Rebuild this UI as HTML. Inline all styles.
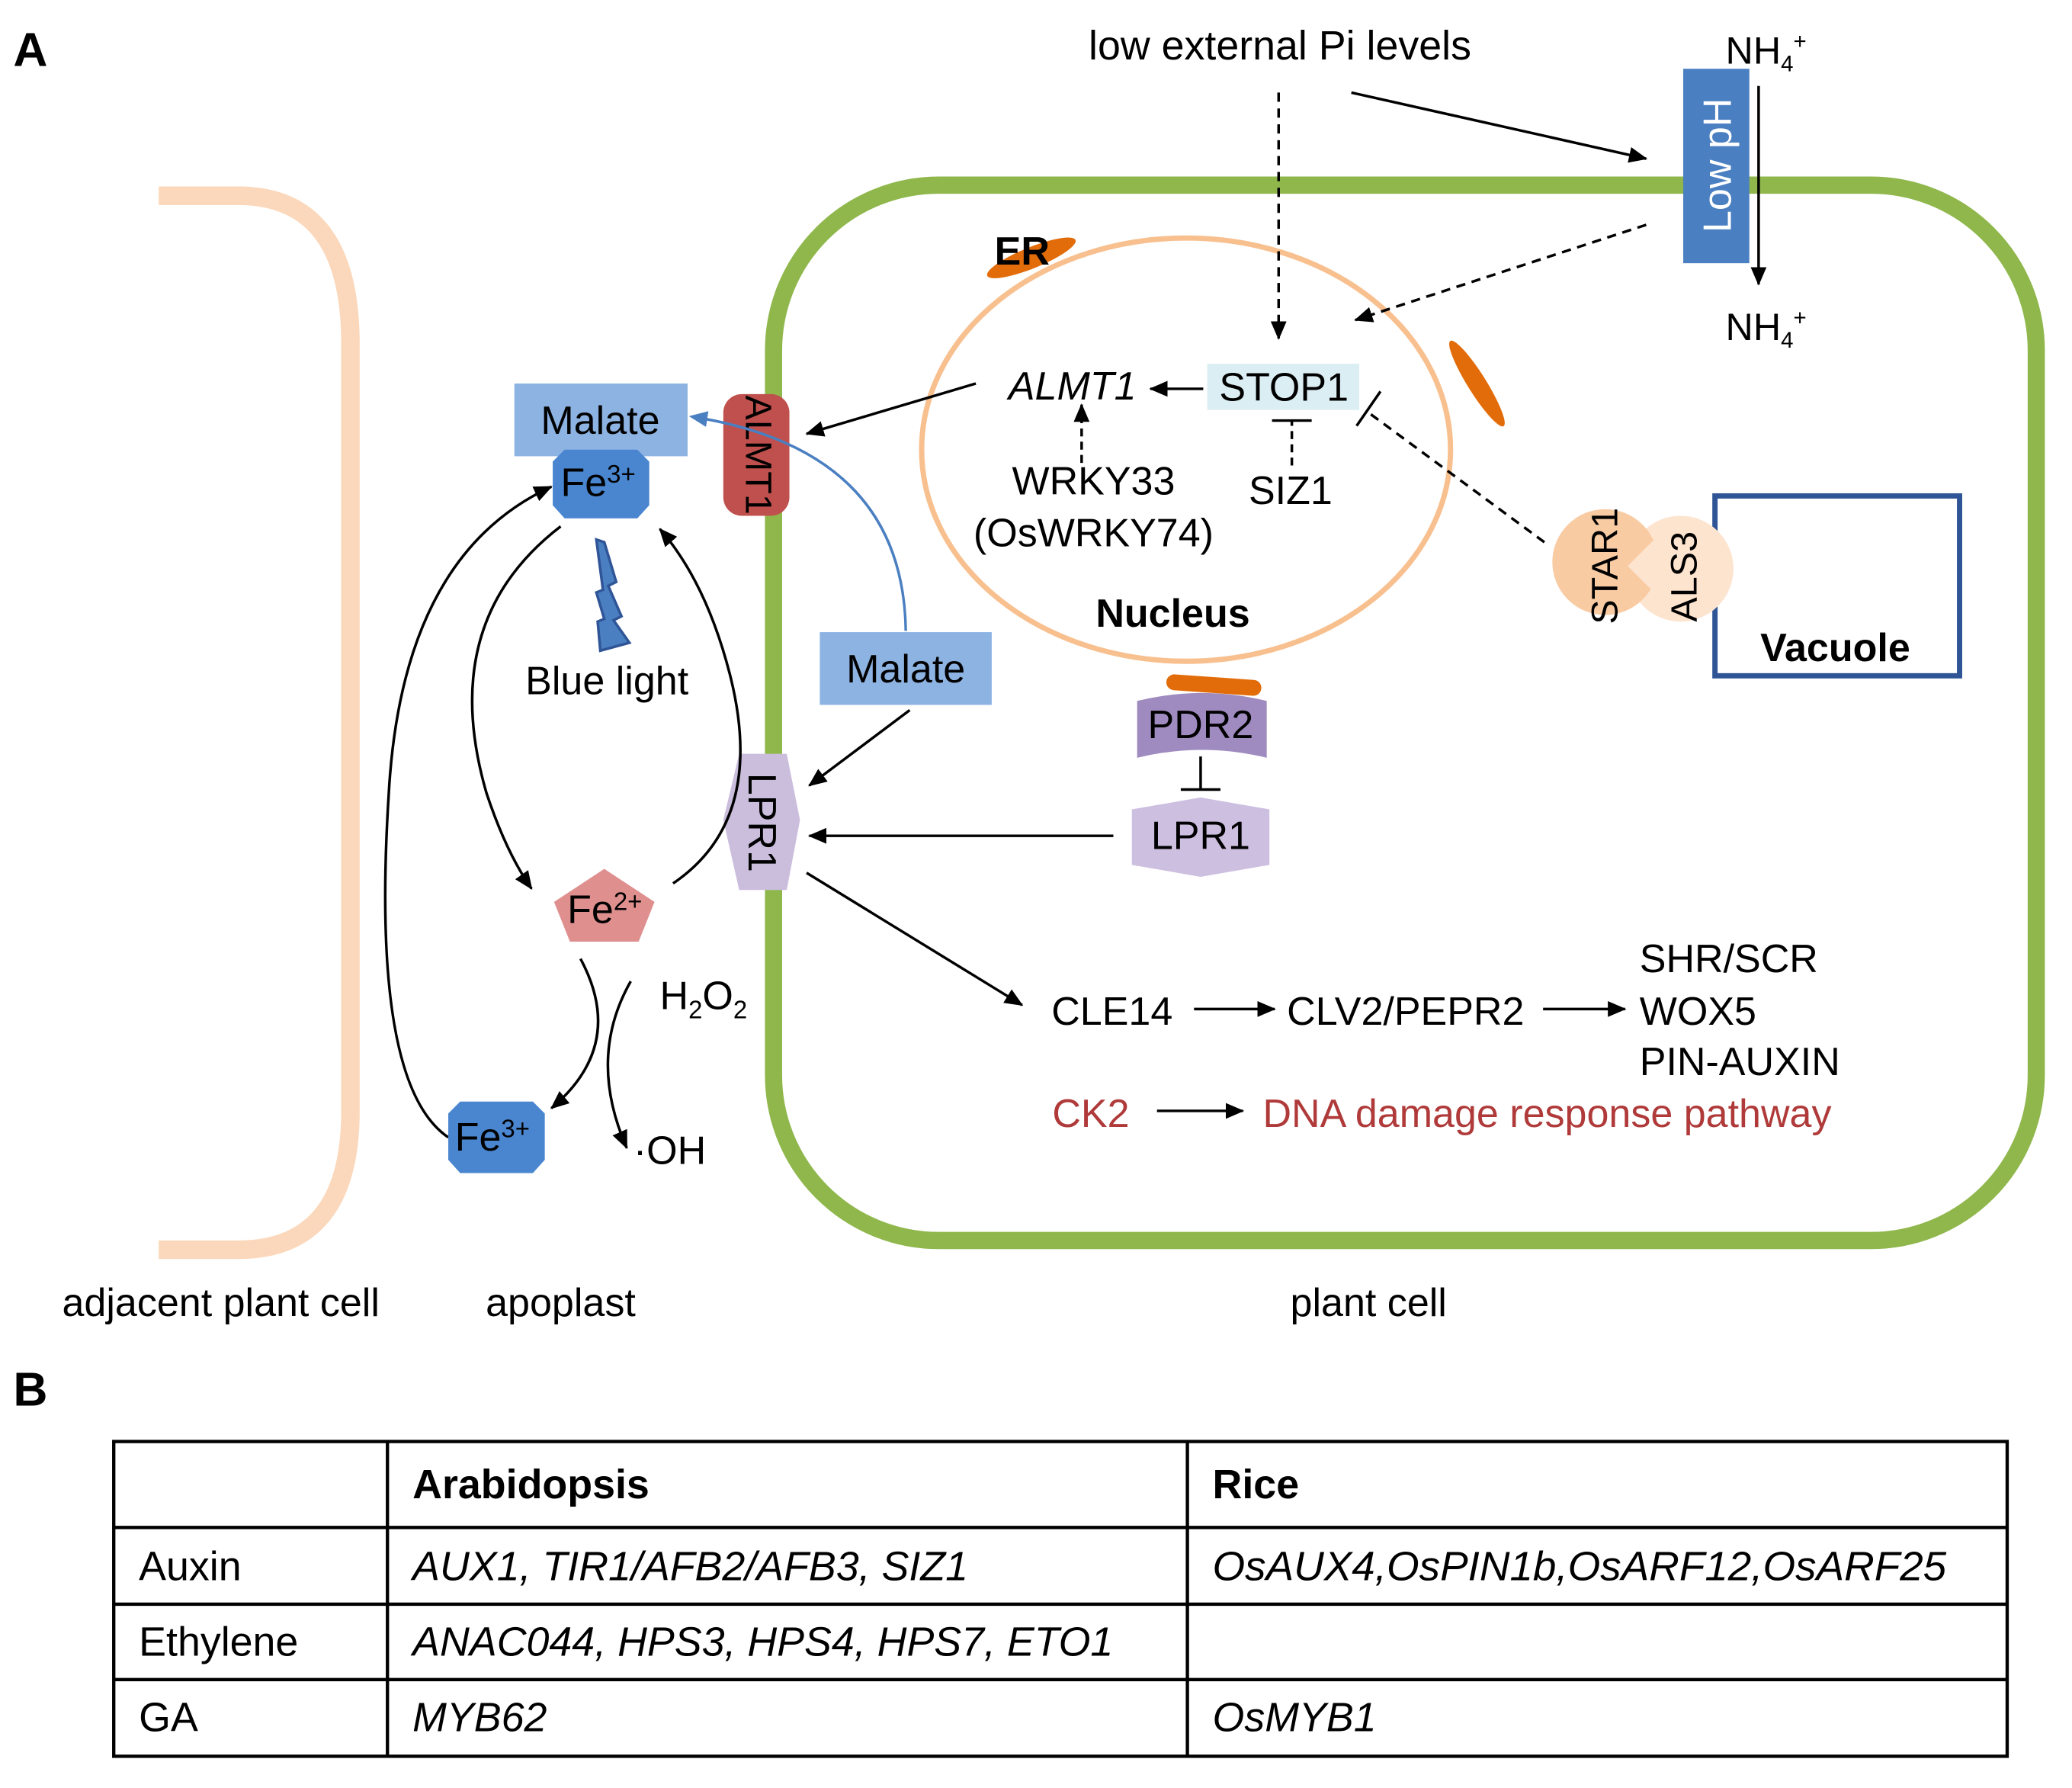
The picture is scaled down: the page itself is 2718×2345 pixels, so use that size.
<!DOCTYPE html>
<html><head><meta charset="utf-8"><style>html,body{margin:0;padding:0;background:#fff}svg{display:block}</style></head>
<body>
<svg width="2718" height="2345" viewBox="0 0 1567 1352" xmlns="http://www.w3.org/2000/svg" font-family="Liberation Sans, Arial, sans-serif">
<defs>
<marker id="ah" markerWidth="14" markerHeight="12" refX="13" refY="6" orient="auto" markerUnits="userSpaceOnUse" viewBox="0 0 14 12"><path d="M0,0 L14,6 L0,12 z" fill="#000"/></marker>
<marker id="ab" markerWidth="14" markerHeight="12" refX="12" refY="6" orient="auto" markerUnits="userSpaceOnUse" viewBox="0 0 14 12"><path d="M0,0 L14,6 L0,12 z" fill="#4a7fc1"/></marker>
</defs>
<rect width="1567" height="1352" fill="#fff"/>
<text x="10" y="50" font-size="36" font-weight="bold">A</text>
<text x="10" y="1063" font-size="36" font-weight="bold">B</text>

<path d="M120,148 H180 Q265,148 265,260 V840 Q265,945 180,945 H120" fill="none" stroke="#fbd8bb" stroke-width="14"/>
<rect x="585" y="140" width="955" height="798" rx="125" fill="none" stroke="#8fb74c" stroke-width="13"/>

<ellipse cx="897" cy="340" rx="200" ry="160" fill="#fff" stroke="#f8c08f" stroke-width="4"/>

<rect x="1273" y="52" width="50" height="147" fill="#4a7fc1"/>
<text transform="translate(1309,125) rotate(-90)" font-size="30" fill="#fff" text-anchor="middle">Low pH</text>
<text x="1305" y="48" font-size="29">NH<tspan font-size="17" dy="6">4</tspan><tspan font-size="17" dy="-17">+</tspan></text>
<text x="1305" y="257" font-size="29">NH<tspan font-size="17" dy="6">4</tspan><tspan font-size="17" dy="-17">+</tspan></text>
<line x1="1330" y1="65" x2="1330" y2="215" stroke="#000" stroke-width="2" marker-end="url(#ah)"/>
<text x="968" y="45" font-size="31" text-anchor="middle">low external Pi levels</text>
<line x1="967" y1="70" x2="967" y2="256" stroke="#000" stroke-width="2" stroke-dasharray="7,5" marker-end="url(#ah)"/>
<line x1="1022" y1="70" x2="1245" y2="120" stroke="#000" stroke-width="2" marker-end="url(#ah)"/>
<line x1="1245" y1="170" x2="1025" y2="242" stroke="#000" stroke-width="2" stroke-dasharray="7,5" marker-end="url(#ah)"/>

<ellipse cx="780" cy="195" rx="36" ry="8" fill="#e36c0a" transform="rotate(-22 780 195)"/>
<text x="773" y="200" font-size="30" font-weight="bold" text-anchor="middle">ER</text>
<ellipse cx="1117" cy="290" rx="38" ry="7" fill="#e36c0a" transform="rotate(58 1117 290)"/>
<rect x="882" y="512" width="72" height="12" rx="6" fill="#e36c0a" transform="rotate(4 918 518)"/>
<text x="811" y="302" font-size="30" font-style="italic" text-anchor="middle">ALMT1</text>
<rect x="913" y="275" width="115" height="35" fill="#dbeef3"/>
<text x="971" y="303" font-size="30" text-anchor="middle">STOP1</text>
<line x1="910" y1="294" x2="870" y2="294" stroke="#000" stroke-width="2" marker-end="url(#ah)"/>
<line x1="977" y1="352" x2="977" y2="318" stroke="#000" stroke-width="2" stroke-dasharray="6,4"/>
<line x1="962" y1="318" x2="992" y2="318" stroke="#000" stroke-width="2"/>
<text x="976" y="381" font-size="30" text-anchor="middle">SIZ1</text>
<text x="827" y="374" font-size="30" text-anchor="middle">WRKY33</text>
<text x="827" y="413" font-size="30" text-anchor="middle">(OsWRKY74)</text>
<line x1="818" y1="350" x2="818" y2="306" stroke="#000" stroke-width="2" stroke-dasharray="6,4" marker-end="url(#ah)"/>
<text x="887" y="474" font-size="30" font-weight="bold" text-anchor="middle">Nucleus</text>
<line x1="1168" y1="410" x2="1035" y2="312" stroke="#000" stroke-width="2" stroke-dasharray="7,5"/>
<line x1="1026" y1="322" x2="1044" y2="296" stroke="#000" stroke-width="2"/>

<rect x="1297" y="375" width="185" height="136" fill="#fff" stroke="#2f5597" stroke-width="4"/>
<text x="1388" y="500" font-size="30" font-weight="bold" text-anchor="middle">Vacuole</text>
<circle cx="1271" cy="430" r="40" fill="#fde4cf"/>
<circle cx="1214" cy="425" r="40" fill="#f9cba3"/>
<path d="M1231,428 L1261,398 L1261,458 z" fill="#fde4cf"/>
<text transform="translate(1223,428) rotate(-90)" font-size="28" text-anchor="middle">STAR1</text>
<text transform="translate(1283,436) rotate(-90)" font-size="28" text-anchor="middle">ALS3</text>

<rect x="547" y="298" width="50" height="92" rx="14" fill="#c0504d"/>
<text transform="translate(564,344) rotate(90)" font-size="28" text-anchor="middle">ALMT1</text>
<rect x="389" y="290" width="131" height="55" fill="#8db3e2"/>
<text x="454" y="328" font-size="30" text-anchor="middle">Malate</text>
<path d="M427,340 H482 L491,349 V382 L482,392 H427 L418,382 V349 z" fill="#4a86d0"/>
<text x="424" y="375" font-size="30">Fe<tspan font-size="19" dy="-10">3+</tspan></text>
<line x1="738" y1="290" x2="610" y2="328" stroke="#000" stroke-width="2" marker-end="url(#ah)"/>
<path d="M685,477 Q683,340 523,315" fill="none" stroke="#4a7fc1" stroke-width="2" marker-end="url(#ab)"/>
<rect x="620" y="478" width="130" height="55" fill="#8db3e2"/>
<text x="685" y="516" font-size="30" text-anchor="middle">Malate</text>
<line x1="688" y1="537" x2="612" y2="594" stroke="#000" stroke-width="2" marker-end="url(#ah)"/>
<path d="M559,570 H595 L605,620 L595,673 H559 L547,620 z" fill="#cbbedd"/>
<text transform="translate(566,622) rotate(90)" font-size="30" text-anchor="middle">LPR1</text>
<line x1="842" y1="632" x2="612" y2="632" stroke="#000" stroke-width="2" marker-end="url(#ah)"/>
<path d="M860,530 Q909,518 958,530 V573 Q909,561 860,573 z" fill="#a08bc0"/>
<text x="908" y="558" font-size="30" text-anchor="middle">PDR2</text>
<line x1="908" y1="572" x2="908" y2="597" stroke="#000" stroke-width="2"/>
<line x1="893" y1="597" x2="923" y2="597" stroke="#000" stroke-width="2"/>
<path d="M856,612 L908,603 L960,612 V654 L908,663 L856,654 z" fill="#cdbfe0"/>
<text x="908" y="642" font-size="30" text-anchor="middle">LPR1</text>
<line x1="610" y1="660" x2="773" y2="760" stroke="#000" stroke-width="2" marker-end="url(#ah)"/>
<text x="841" y="775" font-size="30" text-anchor="middle">CLE14</text>
<line x1="903" y1="763" x2="964" y2="763" stroke="#000" stroke-width="2" marker-end="url(#ah)"/>
<text x="1063" y="775" font-size="30" text-anchor="middle">CLV2/PEPR2</text>
<line x1="1167" y1="763" x2="1229" y2="763" stroke="#000" stroke-width="2" marker-end="url(#ah)"/>
<text x="1240" y="735" font-size="30">SHR/SCR</text>
<text x="1240" y="775" font-size="30">WOX5</text>
<text x="1240" y="813" font-size="30">PIN-AUXIN</text>
<text x="825" y="852" font-size="30" fill="#b03a3a" text-anchor="middle">CK2</text>
<line x1="875" y1="840" x2="940" y2="840" stroke="#000" stroke-width="2" marker-end="url(#ah)"/>
<text x="955" y="852" font-size="30" fill="#b03a3a">DNA damage response pathway</text>

<path d="M451,408 L457,410 L466,440 L460,443 L470,466 L464,469 L476,486 L454,492 L452,470 L457,468 L451,448 L456,446 z" fill="#4a7fc1" stroke="#2f5597" stroke-width="2"/>
<text x="459" y="525" font-size="30" text-anchor="middle">Blue light</text>
<path d="M457,657 L495,682 L483,712 L431,712 L419,682 z" fill="#e08f8f"/>
<text x="429" y="698" font-size="30">Fe<tspan font-size="19" dy="-10">2+</tspan></text>
<path d="M424,398 Q330,470 368,600 Q383,645 402,672" fill="none" stroke="#000" stroke-width="2" marker-end="url(#ah)"/>
<path d="M509,668 Q580,620 552,510 Q534,440 499,400" fill="none" stroke="#000" stroke-width="2" marker-end="url(#ah)"/>
<path d="M339,860 Q280,820 294,600 Q304,420 417,368" fill="none" stroke="#000" stroke-width="2" marker-end="url(#ah)"/>
<path d="M439,725 Q474,790 417,838" fill="none" stroke="#000" stroke-width="2" marker-end="url(#ah)"/>
<path d="M477,742 Q444,800 474,868" fill="none" stroke="#000" stroke-width="2" marker-end="url(#ah)"/>
<text x="499" y="763" font-size="30">H<tspan font-size="19" dy="7">2</tspan><tspan dy="-7">O</tspan><tspan font-size="19" dy="7">2</tspan></text>
<path d="M348,833 H403 L412,842 V877 L403,887 H348 L339,877 V842 z" fill="#4a86d0"/>
<text x="344" y="870" font-size="30">Fe<tspan font-size="19" dy="-10">3+</tspan></text>
<text x="479" y="880" font-size="30">·OH</text>

<text x="167" y="995" font-size="30" text-anchor="middle">adjacent plant cell</text>
<text x="424" y="995" font-size="30" text-anchor="middle">apoplast</text>
<text x="1035" y="995" font-size="30" text-anchor="middle">plant cell</text>

<g stroke="#000" stroke-width="2.5" fill="none">
<rect x="86" y="1090" width="1432" height="238"/>
<line x1="293" y1="1090" x2="293" y2="1328"/>
<line x1="898" y1="1090" x2="898" y2="1328"/>
<line x1="86" y1="1155" x2="1518" y2="1155"/>
<line x1="86" y1="1213" x2="1518" y2="1213"/>
<line x1="86" y1="1270" x2="1518" y2="1270"/>
</g>
<g font-size="31">
<text x="312" y="1133" font-weight="bold">Arabidopsis</text>
<text x="917" y="1133" font-weight="bold">Rice</text>
<text x="105" y="1195">Auxin</text>
<text x="105" y="1252">Ethylene</text>
<text x="105" y="1309">GA</text>
<g font-style="italic">
<text x="312" y="1195">AUX1, TIR1/AFB2/AFB3, SIZ1</text>
<text x="917" y="1195" textLength="555" lengthAdjust="spacingAndGlyphs">OsAUX4,OsPIN1b,OsARF12,OsARF25</text>
<text x="312" y="1252">ANAC044, HPS3, HPS4, HPS7, ETO1</text>
<text x="312" y="1309">MYB62</text>
<text x="917" y="1309">OsMYB1</text>
</g></g>
</svg>
</body></html>
